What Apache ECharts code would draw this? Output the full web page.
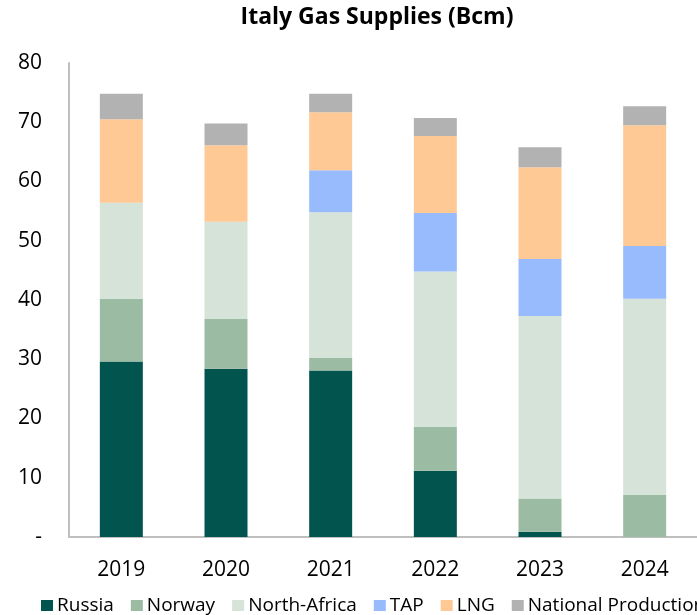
<!DOCTYPE html>
<html><head><meta charset="utf-8">
<script src="https://cdn.jsdelivr.net/npm/echarts@6/dist/echarts.min.js"></script>
<style>html,body{margin:0;padding:0;background:#fff}#c{width:697px;height:615px}</style>
</head><body><div id="c"></div>
<script>
const years = ['2019','2020','2021','2022','2023','2024'];
const russia = [29.6, 28.4, 28.1, 11.2, 0.9, 0];
const norway = [10.6, 8.4, 2.1, 7.4, 5.6, 7.1];
const northAfrica = [16.2, 16.4, 24.6, 26.2, 30.8, 33.1];
const tap = [0, 0, 7.1, 9.9, 9.6, 8.9];
const lng = [14.1, 12.9, 9.8, 13.0, 15.5, 20.4];
const nationalProduction = [4.3, 3.7, 3.1, 3.0, 3.4, 3.2];
const seriesNames = ['Russia','Norway','North-Africa','TAP','LNG','National Production'];
const seriesData = [russia, norway, northAfrica, tap, lng, nationalProduction];
const colors = ['#02554f','#9bbba2','#d5e3d9','#98bbfd','#ffc996','#b2b2b2'];
const FONT = 'Open Sans';
const chart = echarts.init(document.getElementById('c'));
chart.setOption({
  animation: false,
  title: {text: 'Italy Gas Supplies (Bcm)', left: 372, top: 1, textAlign: 'center',
    textStyle: {fontFamily: FONT, fontWeight: 'bold', fontSize: 23, color: '#000'}},
  grid: {left: 69, top: 63, width: 642, height: 474},
  legend: {left: 36, top: 591, width: 1000, itemGap: 17, itemWidth: 12, itemHeight: 11, icon: 'rect',
    textStyle: {fontFamily: FONT, fontSize: 19, color: '#000', padding: [0,0,0,-1]},
    data: seriesNames},
  xAxis: {type: 'category', data: years,
    axisLine: {lineStyle: {color: '#bfbfbf', width: 2}}, axisTick: {show: false},
    axisLabel: {fontFamily: FONT, fontSize: 21, color: '#000', margin: 23}},
  yAxis: {type: 'value', min: 0, max: 80, interval: 10,
    axisLine: {show: true, lineStyle: {color: '#bfbfbf', width: 2}}, axisTick: {show: false},
    splitLine: {show: false},
    axisLabel: {fontFamily: FONT, fontSize: 21, color: '#000', margin: 27,
      formatter: v => v === 0 ? '-' : String(v)}},
  series: seriesNames.map((n, i) => ({
    name: n, type: 'bar', stack: 'total', barWidth: 43, data: seriesData[i],
    itemStyle: {color: colors[i]}
  }))
});
</script></body></html>
